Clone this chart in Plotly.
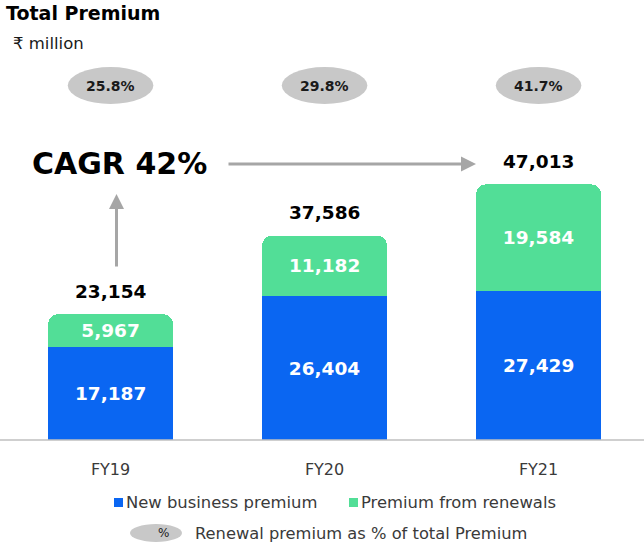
import plotly.graph_objects as go

# ---- data -------------------------------------------------------------
years = ["FY19", "FY20", "FY21"]
new_business = [17187, 26404, 27429]
renewals = [5967, 11182, 19584]
renewal_share = [25.8, 29.8, 41.7]
cagr_pct = 42

totals = [n + r for n, r in zip(new_business, renewals)]

# ---- page geometry (pixels) -------------------------------------------
W, H = 644, 545
ML, MR, MT, MB = 4, 0, 0, 105
PW, PH = W - ML - MR, H - MT - MB

BLUE = "#0A66F2"
GREEN = "#52DE97"
GREY_FILL = "#C8C8C8"
ARROW = "#A6A6A6"
TXT = "#3A3A3A"
FONT = "DejaVu Sans"


def px(x):
    """pixel x -> paper x"""
    return (x - ML) / PW


def py(y):
    """pixel y (from top) -> paper y"""
    return (H - MB - y) / PH


fig = go.Figure()

fig.add_trace(go.Bar(
    x=years, y=new_business, name="New business premium",
    marker=dict(color=BLUE, line=dict(width=0)),
    text=[f"{v:,}" for v in new_business], textposition="inside",
    insidetextanchor="middle",
    textfont=dict(family=FONT, size=18.5, color="white", weight="bold"),
    width=0.584,
))
fig.add_trace(go.Bar(
    x=years, y=renewals, name="Premium from renewals",
    marker=dict(color=GREEN, line=dict(width=0)),
    text=[f"{v:,}" for v in renewals], textposition="inside",
    insidetextanchor="middle",
    textfont=dict(family=FONT, size=18.5, color="white", weight="bold"),
    width=0.584,
))

annotations = []
shapes = []

# totals above each stack
for yr, t in zip(years, totals):
    annotations.append(dict(
        x=yr, y=t, xref="x", yref="y", text=f"{t:,}", showarrow=False,
        yanchor="middle", yshift=23,
        font=dict(family=FONT, size=18.5, color="black", weight="bold"),
    ))

# renewal share ovals
for i, (yr, s) in enumerate(zip(years, renewal_share)):
    shapes.append(dict(
        type="circle", xref="x", yref="paper",
        x0=i - 0.2, x1=i + 0.2, y0=py(104), y1=py(67),
        fillcolor=GREY_FILL, line=dict(width=0), layer="below",
    ))
    annotations.append(dict(
        x=yr, y=py(85.5), xref="x", yref="paper", text=f"{s:.1f}%",
        showarrow=False, yanchor="middle",
        font=dict(family=FONT, size=14, color="#1A1A1A", weight="bold"),
    ))

# title block
annotations.append(dict(
    x=px(4), y=py(13), xref="paper", yref="paper", text="Total Premium",
    showarrow=False, xanchor="left", yanchor="middle",
    font=dict(family=FONT, size=19, color="black", weight="bold"),
))
annotations.append(dict(
    x=px(11), y=py(43), xref="paper", yref="paper", text="₹ million",
    showarrow=False, xanchor="left", yanchor="middle",
    font=dict(family=FONT, size=16.5, color="#1A1A1A"),
))

# CAGR callout
annotations.append(dict(
    x=px(30), y=py(163), xref="paper", yref="paper", text=f"CAGR {cagr_pct}%",
    showarrow=False, xanchor="left", yanchor="middle",
    font=dict(family=FONT, size=30, color="black", weight="bold"),
))
annotations.append(dict(
    x=px(476), y=py(164), xref="paper", yref="paper", text="",
    showarrow=True, arrowhead=2, arrowsize=1, arrowwidth=3, arrowcolor=ARROW,
    ax=-249, ay=0, axref="pixel", ayref="pixel",
))
annotations.append(dict(
    x=px(116.5), y=py(194), xref="paper", yref="paper", text="",
    showarrow=True, arrowhead=2, arrowsize=1, arrowwidth=3, arrowcolor=ARROW,
    ax=0, ay=74, axref="pixel", ayref="pixel",
))

# baseline
shapes.append(dict(
    type="line", xref="paper", yref="paper", x0=px(0), x1=px(644),
    y0=py(440), y1=py(440), line=dict(color="#BFBFBF", width=1.5),
))

# legend row 1
for sx, col, label in [(114, BLUE, "New business premium"),
                       (349, GREEN, "Premium from renewals")]:
    shapes.append(dict(
        type="rect", xref="paper", yref="paper",
        x0=px(sx), x1=px(sx + 9), y0=py(507), y1=py(498),
        fillcolor=col, line=dict(width=0),
    ))
    annotations.append(dict(
        x=px(sx + 10), y=py(502.5), xref="paper", yref="paper", text=label,
        showarrow=False, xanchor="left", yanchor="middle",
        font=dict(family=FONT, size=16.4, color=TXT),
    ))

# legend row 2
shapes.append(dict(
    type="circle", xref="paper", yref="paper",
    x0=px(130), x1=px(182), y0=py(542), y1=py(524),
    fillcolor=GREY_FILL, line=dict(width=0),
))
annotations.append(dict(
    x=px(156), y=py(533), xref="paper", yref="paper", text="%",
    showarrow=False, yanchor="middle",
    font=dict(family=FONT, size=12, color="#1A1A1A"),
))
annotations.append(dict(
    x=px(193), y=py(533), xref="paper", yref="paper",
    text="Renewal premium as % of total Premium",
    showarrow=False, xanchor="left", yanchor="middle",
    font=dict(family=FONT, size=16.3, color=TXT),
))

fig.update_layout(
    width=W, height=H,
    margin=dict(l=ML, r=MR, t=MT, b=MB),
    paper_bgcolor="white", plot_bgcolor="white",
    barmode="stack", barcornerradius=10,
    showlegend=False,
    xaxis=dict(
        range=[-0.498, -0.498 + PW / 214], showgrid=False, zeroline=False,
        showline=False, ticks="", ticklabelstandoff=18,
        tickfont=dict(family=FONT, size=16, color=TXT),
    ),
    yaxis=dict(
        range=[0, PH / 0.00544], visible=False, showgrid=False, zeroline=False,
    ),
    annotations=annotations, shapes=shapes,
)

fig.write_html("out.html")
